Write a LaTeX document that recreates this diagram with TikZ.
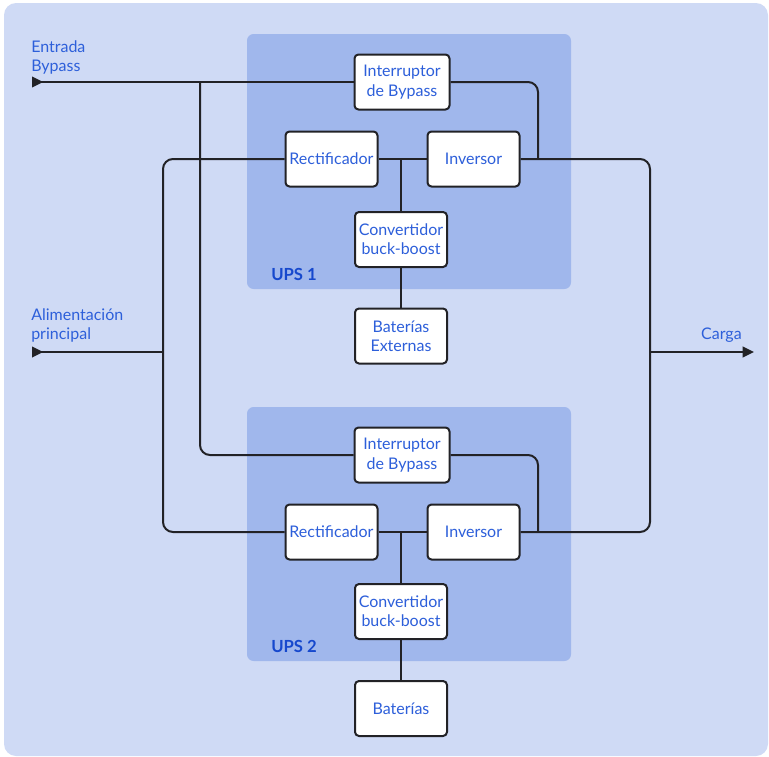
\documentclass[tikz,border=0pt]{standalone}
\usepackage{fontspec}
\setmainfont{Lato}
\usetikzlibrary{arrows.meta}
\definecolor{bgblue}{RGB}{207,218,245}
\definecolor{upsblue}{RGB}{160,183,236}
\definecolor{txtblue}{RGB}{45,95,218}
\definecolor{lblblue}{RGB}{22,72,205}
\definecolor{wirecol}{RGB}{34,34,38}
\begin{document}
\begin{tikzpicture}[x=0.75pt, y=-0.75pt,
    block/.style={draw=wirecol, line width=1.5pt, fill=white, rounded corners=3pt,
        minimum width=69pt, minimum height=41.25pt, inner sep=0pt, align=center,
        text=txtblue, font=\fontsize{12}{14.5}\selectfont},
    wideblock/.style={block, minimum width=71.25pt},
    wire/.style={draw=wirecol, line width=1.5pt, rounded corners=7.5pt},
    tag/.style={text=txtblue, align=left, inner sep=0pt, font=\fontsize{12}{14.5}\selectfont},
    upstag/.style={text=lblblue, inner sep=0pt, font=\fontsize{12.5}{14}\selectfont\bfseries}]
    \useasboundingbox (0, 0) rectangle (769, 757);
    \fill[bgblue, rounded corners=9pt] (4, 3) rectangle (768, 756);
    \fill[upsblue, rounded corners=5pt] (247, 34) rectangle (571, 289);
    \fill[upsblue, rounded corners=5pt] (247, 407) rectangle (571, 661);
    \node[upstag, anchor=base west] (ups1) at (271, 280) {UPS 1};
    \node[upstag, anchor=base west] (ups2) at (271, 652) {UPS 2};
    % UPS 1
    \node[wideblock] (byp1) at (402, 82) {Interruptor\\de Bypass};
    \node[block] (rec1) at (331.5, 159) {Rectificador};
    \node[block] (inv1) at (473.5, 159) {Inversor};
    \node[block] (conv1) at (401, 239.5) {Convertidor\\buck-boost};
    \node[block] (bat1) at (401, 336) {Baterías\\Externas};
    % UPS 2
    \node[wideblock] (byp2) at (402, 455) {Interruptor\\de Bypass};
    \node[block] (rec2) at (331.5, 532) {Rectificador};
    \node[block] (inv2) at (473.5, 532) {Inversor};
    \node[block] (conv2) at (401, 611.5) {Convertidor\\buck-boost};
    \node[block] (bat2) at (401, 708.5) {Baterías};
    % labels
    \node[tag, anchor=north west] (bypasstxt) at (31, 40) {Entrada\\Bypass};
    \node[tag, anchor=north west] (maintxt) at (31, 308) {Alimentación\\principal};
    \node[tag, anchor=base east] (loadtxt) at (742, 339) {Carga};
    \coordinate (bypassin) at (32, 82);
    \coordinate (mainin) at (32, 352);
    \coordinate (loadout) at (754, 352);
    \coordinate (bpbus) at (200, 82);
    \coordinate (acbus) at (163, 352);
    \coordinate (outbus) at (650, 352);
    \coordinate (bpjoin1) at (538, 159);
    \coordinate (bpjoin2) at (538, 532);
    % bypass feed
    \draw[wire, {Triangle[length=8.5pt, width=8pt, reversed]}-] (bypassin) -- (byp1);
    \draw[wire] (bpbus) |- (byp2);
    \draw[wire] (byp1) -| (bpjoin1);
    \draw[wire] (byp2) -| (bpjoin2);
    % main feed
    \draw[wire, {Triangle[length=8.5pt, width=8pt, reversed]}-] (mainin) -- (acbus);
    \draw[wire] (rec1) -| (acbus) |- (rec2);
    \draw[wire] (rec1) -- (inv1);
    \draw[wire] (rec2) -- (inv2);
    \draw[wire] (conv1) -- (conv1 |- rec1);
    \draw[wire] (conv2) -- (conv2 |- rec2);
    \draw[wire] (conv1) -- (bat1);
    \draw[wire] (conv2) -- (bat2);
    % load
    \draw[wire] (inv1) -| (outbus) |- (inv2);
    \draw[wire, -{Triangle[length=8.5pt, width=8pt]}] (outbus) -- (loadout);
\end{tikzpicture}
\end{document}
